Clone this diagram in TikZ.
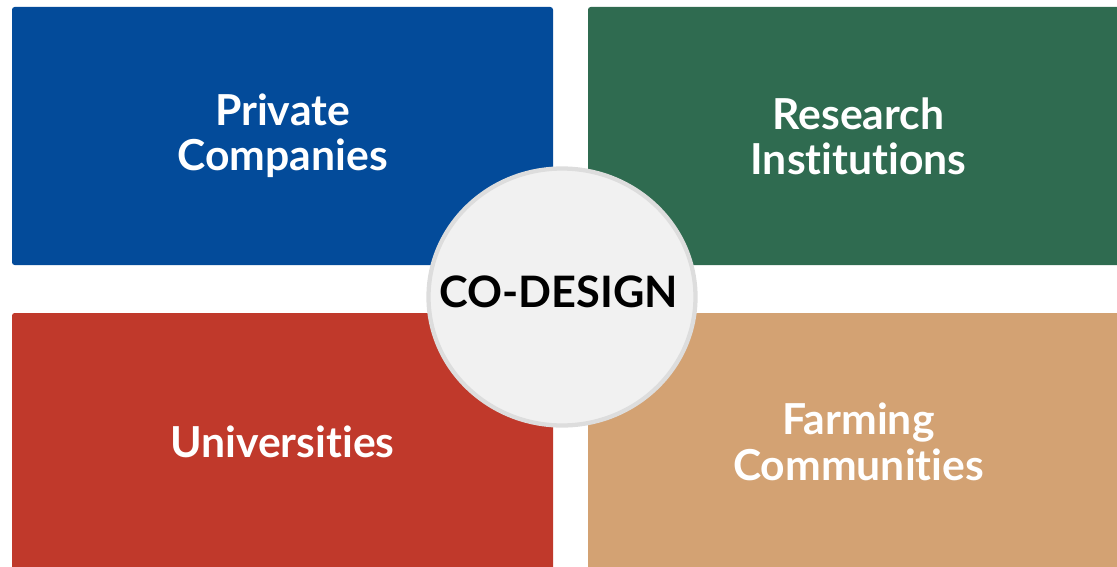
\documentclass[tikz,border=0pt]{standalone}
\usepackage{fontspec}
\setmainfont{Lato}[Ligatures=NoCommon]
\definecolor{cdblue}{RGB}{3,75,154}
\definecolor{cdgreen}{RGB}{47,107,80}
\definecolor{cdred}{RGB}{192,57,43}
\definecolor{cdtan}{RGB}{211,162,115}
\definecolor{cdfill}{RGB}{241,241,241}
\definecolor{cdring}{RGB}{221,221,221}
\usetikzlibrary{positioning,shapes.geometric}

\begin{document}
\begin{tikzpicture}[x=0.75pt, y=-0.75pt,
  every node/.style={font=\bfseries},
  quad/.style={rounded corners=2pt, minimum width=541*0.75pt, minimum height=258*0.75pt, align=center, text=white, inner sep=0pt, font=\fontsize{32}{34}\selectfont\bfseries},
  hub/.style={ellipse, draw=cdring, fill=cdfill, line width=3.2pt, minimum width=267*0.75pt, minimum height=257*0.75pt, inner sep=0pt}]
\useasboundingbox (0,0) rectangle (1117,567);
\clip (0,0) rectangle (1117,567);
% partners
\node[quad, fill=cdblue] (private) at (282.5,136) {Private\\Companies};
\node[quad, fill=cdgreen] (research) at (858.5,136) {Research\\Institutions};
\node[quad, fill=cdred] (univ) at (282.5,442) {Universities};
\node[quad, fill=cdtan] (farming) at (858.5,442) {Farming\\Communities};
% centre
\node[hub] (codesign) at (562,297) {};
\node at (559,292) {\fontsize{32.5}{36}\selectfont CO-DESIGN};
\end{tikzpicture}
\end{document}
